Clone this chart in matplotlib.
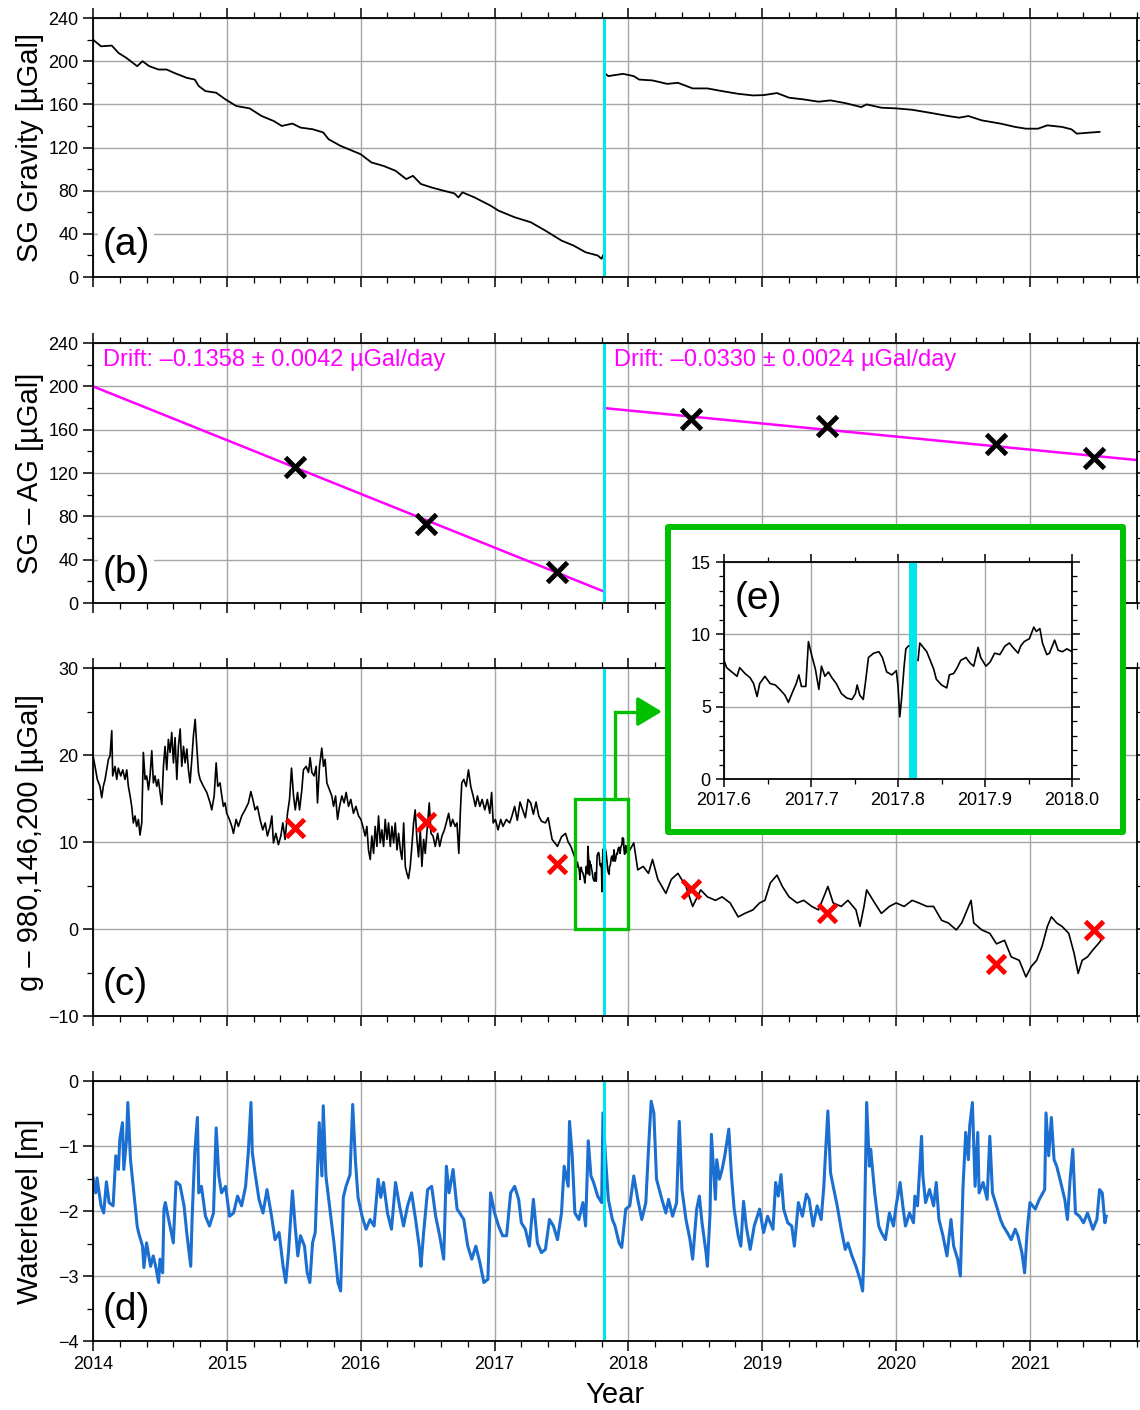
import matplotlib

matplotlib.use("Agg")

import matplotlib.pyplot as plt
import numpy as np
from matplotlib.patches import Rectangle
from matplotlib.ticker import FormatStrFormatter, MultipleLocator

plt.rcParams["font.family"] = ["Liberation Sans", "DejaVu Sans"]

# instrument change (SG replaced), decimal year
BREAK_T = 2017.817
BREAK_SPAN = (2017.8126, 2017.8215)

# (a) SG gravity, before and after the break
SG1_T = [2014.00, 2014.06, 2014.14, 2014.19, 2014.25, 2014.33, 2014.37, 2014.42, 2014.49, 2014.55,
         2014.61, 2014.70, 2014.76, 2014.79, 2014.84, 2014.92, 2014.99, 2015.07, 2015.17, 2015.26,
         2015.35, 2015.41, 2015.49, 2015.55, 2015.64, 2015.72, 2015.76, 2015.85, 2015.94, 2016.00,
         2016.08, 2016.17, 2016.26, 2016.34, 2016.39, 2016.45, 2016.53, 2016.62, 2016.70, 2016.73,
         2016.76, 2016.85, 2016.97, 2017.03, 2017.15, 2017.27, 2017.38, 2017.50, 2017.59, 2017.68,
         2017.77, 2017.80, 2017.81]
SG1_V = [220.0, 213.8, 214.5, 207.7, 203.0, 195.4, 200.0, 195.4, 192.3, 192.3,
         189.0, 184.6, 183.0, 177.0, 172.3, 170.8, 164.6, 158.5, 156.3, 149.2,
         144.6, 140.0, 142.2, 138.5, 137.0, 134.0, 127.7, 121.5, 116.9, 113.8,
         106.2, 103.0, 98.5, 90.8, 93.8, 86.2, 83.0, 80.0, 77.5, 73.8,
         78.5, 73.8, 66.2, 61.5, 55.4, 50.8, 43.0, 33.8, 29.2, 23.0,
         20.0, 16.9, 20.0]
SG2_T = [2017.82, 2017.85, 2017.96, 2018.04, 2018.08, 2018.18, 2018.29, 2018.37, 2018.48, 2018.59,
         2018.70, 2018.82, 2018.93, 2019.01, 2019.11, 2019.20, 2019.31, 2019.42, 2019.51, 2019.62,
         2019.74, 2019.78, 2019.89, 2020.00, 2020.12, 2020.25, 2020.39, 2020.47, 2020.54, 2020.64,
         2020.78, 2020.89, 2020.97, 2021.06, 2021.13, 2021.24, 2021.31, 2021.35, 2021.44, 2021.52]
SG2_V = [189.2, 186.2, 188.3, 186.2, 183.0, 182.2, 179.0, 180.0, 174.8, 174.8,
         172.3, 169.8, 168.3, 168.6, 170.5, 166.2, 164.6, 162.5, 163.7, 161.2,
         157.5, 160.0, 156.9, 156.3, 155.0, 152.3, 149.2, 147.7, 149.2, 145.2,
         142.2, 139.1, 137.5, 137.5, 140.6, 139.1, 136.9, 132.9, 133.8, 134.5]

# AG campaign epochs
AG_T = [2015.51, 2016.49, 2017.47, 2018.47, 2019.48, 2020.75, 2021.48]
# (b) SG - AG offsets at the AG epochs
SG_AG = [126, 73, 29, 170, 163, 147, 134]
# (c) absolute gravity values
AG_G = [11.6, 12.3, 7.5, 4.6, 1.9, -4.0, -0.1]

# (b) linear drift fits: start value and drift per segment
FIT_START = [200.0, 180.0]
DRIFT = [-0.1358, -0.0330]
DRIFT_ERR = [0.0042, 0.0024]

# (c) gravity residual, 2014 up to the inset window
G1_T = [2014.000, 2014.015, 2014.032, 2014.052, 2014.065, 2014.077, 2014.090, 2014.102, 2014.115, 2014.127,
        2014.140, 2014.147, 2014.164, 2014.177, 2014.189, 2014.207, 2014.222, 2014.239, 2014.252, 2014.264,
        2014.277, 2014.289, 2014.301, 2014.314, 2014.326, 2014.339, 2014.351, 2014.364, 2014.376, 2014.389,
        2014.401, 2014.414, 2014.426, 2014.439, 2014.451, 2014.463, 2014.476, 2014.488, 2014.501, 2014.514,
        2014.526, 2014.538, 2014.551, 2014.563, 2014.576, 2014.588, 2014.601, 2014.613, 2014.626, 2014.638,
        2014.651, 2014.663, 2014.676, 2014.688, 2014.701, 2014.713, 2014.725, 2014.738, 2014.750, 2014.763,
        2014.775, 2014.788, 2014.800, 2014.825, 2014.850, 2014.875, 2014.887, 2014.905, 2014.920, 2014.932,
        2014.949, 2014.962, 2014.974, 2014.987, 2014.999, 2015.019, 2015.037, 2015.049, 2015.069, 2015.086,
        2015.111, 2015.136, 2015.161, 2015.179, 2015.194, 2015.211, 2015.228, 2015.248, 2015.268, 2015.286,
        2015.303, 2015.323, 2015.336, 2015.348, 2015.366, 2015.385, 2015.403, 2015.418, 2015.435, 2015.453,
        2015.468, 2015.483, 2015.498, 2015.511, 2015.528, 2015.543, 2015.560, 2015.572, 2015.592, 2015.610,
        2015.622, 2015.635, 2015.652, 2015.667, 2015.677, 2015.692, 2015.709, 2015.722, 2015.734, 2015.747,
        2015.767, 2015.784, 2015.797, 2015.812, 2015.827, 2015.842, 2015.859, 2015.876, 2015.891, 2015.909,
        2015.926, 2015.946, 2015.964, 2015.984, 2016.001, 2016.016, 2016.033, 2016.046, 2016.058, 2016.071,
        2016.083, 2016.096, 2016.108, 2016.121, 2016.133, 2016.146, 2016.158, 2016.171, 2016.183, 2016.196,
        2016.208, 2016.221, 2016.233, 2016.246, 2016.258, 2016.271, 2016.283, 2016.296, 2016.308, 2016.321,
        2016.333, 2016.345, 2016.357, 2016.370, 2016.382, 2016.395, 2016.407, 2016.420, 2016.432, 2016.445,
        2016.457, 2016.470, 2016.482, 2016.500, 2016.512, 2016.525, 2016.540, 2016.557, 2016.575, 2016.590,
        2016.607, 2016.625, 2016.639, 2016.657, 2016.672, 2016.687, 2016.705, 2016.719, 2016.733, 2016.745,
        2016.755, 2016.770, 2016.788, 2016.805, 2016.822, 2016.840, 2016.857, 2016.872, 2016.890, 2016.907,
        2016.927, 2016.946, 2016.964, 2016.978, 2016.990, 2017.006, 2017.026, 2017.046, 2017.063, 2017.088,
        2017.113, 2017.130, 2017.150, 2017.170, 2017.190, 2017.210, 2017.230, 2017.250, 2017.270, 2017.290,
        2017.310, 2017.330, 2017.350, 2017.380, 2017.400, 2017.430, 2017.450, 2017.470, 2017.500, 2017.530,
        2017.550, 2017.570]
G1_V = [19.9, 18.7, 17.2, 16.4, 15.1, 16.4, 17.2, 18.3, 19.5, 19.9,
        22.8, 17.6, 18.7, 17.2, 18.5, 17.6, 18.3, 17.2, 18.3, 16.4,
        15.3, 14.1, 12.2, 13.0, 11.8, 12.6, 10.8, 12.2, 20.3, 17.2,
        17.6, 16.0, 17.6, 20.5, 16.8, 17.6, 16.4, 17.2, 15.7, 14.3,
        18.7, 21.0, 18.3, 21.8, 20.3, 22.6, 19.1, 22.0, 17.2, 21.0,
        23.0, 18.7, 21.0, 19.1, 20.7, 18.3, 16.8, 19.5, 22.2, 24.1,
        21.0, 18.0, 17.2, 16.4, 15.7, 14.5, 13.7, 15.3, 19.1, 16.4,
        16.8, 15.3, 14.1, 14.5, 13.3, 12.6, 11.8, 11.0, 12.6, 11.8,
        13.0, 13.7, 14.5, 15.8, 14.9, 13.7, 14.1, 12.6, 11.4, 12.2,
        10.7, 11.8, 13.0, 9.9, 11.0, 9.7, 10.7, 12.2, 10.3, 13.3,
        14.9, 18.5, 15.3, 13.7, 15.7, 13.7, 16.0, 18.3, 18.7, 18.0,
        19.7, 18.0, 17.6, 18.7, 14.5, 18.7, 20.8, 18.7, 19.5, 16.8,
        16.0, 15.3, 14.1, 15.3, 12.6, 14.1, 15.3, 14.5, 15.7, 14.1,
        14.9, 13.3, 14.1, 13.0, 12.6, 11.8, 10.7, 11.8, 9.1, 8.0,
        10.7, 8.7, 11.8, 9.5, 13.0, 9.9, 11.4, 9.5, 12.6, 10.3,
        12.2, 9.5, 11.8, 9.9, 12.2, 9.1, 11.0, 9.1, 8.0, 12.2,
        7.2, 6.4, 5.8, 7.2, 9.5, 12.2, 13.7, 10.3, 8.3, 11.4,
        7.2, 10.3, 8.7, 12.2, 14.5, 11.0, 10.7, 9.5, 11.0, 9.5,
        10.7, 11.4, 12.2, 13.3, 11.8, 12.6, 11.8, 12.2, 8.7, 13.7,
        16.8, 17.2, 16.4, 18.3, 16.4, 15.3, 14.1, 15.3, 14.1, 14.9,
        13.7, 14.9, 13.3, 15.7, 12.2, 12.6, 11.4, 12.6, 11.8, 12.6,
        12.2, 13.0, 14.1, 12.5, 14.6, 13.7, 12.8, 14.9, 14.5, 13.2,
        14.6, 13.0, 12.4, 12.2, 12.8, 10.3, 9.9, 9.5, 10.6, 11.0,
        10.0, 9.5]

# (e) zoomed gravity residual around the break, split at the gap
E1_T = [2017.600, 2017.603, 2017.609, 2017.615, 2017.618, 2017.624, 2017.630, 2017.634, 2017.638, 2017.641,
        2017.647, 2017.653, 2017.659, 2017.664, 2017.670, 2017.674, 2017.678, 2017.683, 2017.686, 2017.689,
        2017.694, 2017.697, 2017.701, 2017.705, 2017.709, 2017.712, 2017.716, 2017.720, 2017.724, 2017.729,
        2017.735, 2017.741, 2017.747, 2017.751, 2017.753, 2017.756, 2017.760, 2017.763, 2017.766, 2017.772,
        2017.778, 2017.782, 2017.787, 2017.793, 2017.798, 2017.800, 2017.802, 2017.804, 2017.807, 2017.809,
        2017.812]
E1_V = [8.2, 7.7, 7.4, 7.1, 7.7, 7.3, 7.0, 6.6, 5.7, 6.6,
        7.1, 6.6, 6.5, 6.2, 5.8, 5.3, 5.9, 6.6, 7.2, 6.4,
        6.4, 9.5, 8.5, 7.6, 6.2, 7.8, 7.1, 7.4, 7.0, 6.6,
        5.9, 5.6, 5.5, 5.9, 6.5, 5.8, 5.5, 6.9, 8.4, 8.7,
        8.8, 8.4, 7.4, 7.2, 7.5, 6.4, 4.3, 5.5, 7.8, 9.0,
        9.2]
E2_T = [2017.823, 2017.825, 2017.829, 2017.833, 2017.837, 2017.841, 2017.844, 2017.850, 2017.856, 2017.859,
        2017.864, 2017.868, 2017.872, 2017.878, 2017.883, 2017.887, 2017.892, 2017.895, 2017.901, 2017.906,
        2017.911, 2017.917, 2017.923, 2017.928, 2017.932, 2017.938, 2017.941, 2017.945, 2017.951, 2017.956,
        2017.959, 2017.963, 2017.966, 2017.971, 2017.974, 2017.980, 2017.984, 2017.989, 2017.994, 2018.000]
E2_V = [8.2, 9.4, 9.1, 8.8, 8.2, 7.6, 6.9, 6.5, 6.3, 7.2,
        7.3, 7.7, 8.2, 8.4, 8.0, 7.8, 9.1, 8.4, 7.8, 8.1,
        8.7, 8.6, 9.2, 9.4, 9.1, 8.7, 9.2, 9.5, 9.7, 10.5,
        10.2, 10.4, 9.4, 8.6, 8.7, 9.6, 8.9, 8.8, 9.0, 8.8]

# (c) gravity residual after the inset window
G2_T = [2018.04, 2018.07, 2018.11, 2018.15, 2018.18, 2018.22, 2018.28, 2018.32, 2018.37, 2018.43,
        2018.48, 2018.54, 2018.59, 2018.65, 2018.70, 2018.76, 2018.82, 2018.87, 2018.93, 2018.98,
        2019.02, 2019.06, 2019.11, 2019.15, 2019.20, 2019.26, 2019.31, 2019.37, 2019.42, 2019.47,
        2019.49, 2019.53, 2019.59, 2019.64, 2019.70, 2019.73, 2019.76, 2019.78, 2019.84, 2019.89,
        2019.95, 2020.00, 2020.06, 2020.12, 2020.17, 2020.23, 2020.28, 2020.34, 2020.39, 2020.45,
        2020.49, 2020.53, 2020.56, 2020.58, 2020.64, 2020.70, 2020.75, 2020.81, 2020.86, 2020.92,
        2020.97, 2021.01, 2021.05, 2021.09, 2021.13, 2021.16, 2021.20, 2021.24, 2021.29, 2021.33,
        2021.36, 2021.39, 2021.43, 2021.47, 2021.51, 2021.53]
G2_V = [9.9, 6.8, 7.2, 6.4, 8.0, 5.7, 4.1, 5.7, 6.4, 4.9,
        2.6, 4.5, 3.7, 3.3, 3.7, 3.0, 1.4, 1.8, 2.2, 3.0,
        3.3, 5.3, 6.2, 4.9, 3.7, 3.0, 3.3, 2.6, 2.2, 4.1,
        4.9, 3.0, 2.6, 3.3, 2.2, 0.3, 2.6, 4.5, 3.0, 1.8,
        2.6, 3.0, 2.6, 3.3, 3.0, 2.6, 2.6, 1.0, 0.7, -0.1,
        0.7, 2.2, 3.3, 0.7, -0.1, -0.5, -1.7, -1.3, -3.2, -3.6,
        -5.5, -4.3, -3.6, -2.0, 0.3, 1.4, 0.7, 0.3, -0.5, -2.8,
        -5.1, -3.6, -3.2, -2.4, -1.7, -1.3]

# (d) groundwater level
W_T = [2014.00, 2014.02, 2014.03, 2014.06, 2014.08, 2014.10, 2014.12, 2014.15, 2014.17, 2014.19,
       2014.20, 2014.22, 2014.23, 2014.25, 2014.26, 2014.28, 2014.30, 2014.33, 2014.34, 2014.37,
       2014.38, 2014.40, 2014.43, 2014.45, 2014.47, 2014.49, 2014.50, 2014.52, 2014.53, 2014.54,
       2014.57, 2014.60, 2014.62, 2014.65, 2014.68, 2014.70, 2014.73, 2014.74, 2014.76, 2014.78,
       2014.79, 2014.81, 2014.84, 2014.87, 2014.90, 2014.92, 2014.94, 2014.96, 2014.99, 2015.02,
       2015.05, 2015.08, 2015.11, 2015.14, 2015.16, 2015.18, 2015.19, 2015.21, 2015.24, 2015.27,
       2015.30, 2015.33, 2015.36, 2015.39, 2015.42, 2015.44, 2015.46, 2015.49, 2015.51, 2015.53,
       2015.55, 2015.58, 2015.60, 2015.62, 2015.64, 2015.66, 2015.69, 2015.71, 2015.72, 2015.74,
       2015.77, 2015.80, 2015.83, 2015.85, 2015.87, 2015.89, 2015.92, 2015.94, 2015.96, 2015.98,
       2016.01, 2016.04, 2016.07, 2016.10, 2016.13, 2016.15, 2016.17, 2016.20, 2016.23, 2016.26,
       2016.29, 2016.32, 2016.35, 2016.38, 2016.41, 2016.44, 2016.45, 2016.47, 2016.50, 2016.53,
       2016.56, 2016.59, 2016.62, 2016.64, 2016.66, 2016.69, 2016.72, 2016.74, 2016.77, 2016.80,
       2016.83, 2016.86, 2016.89, 2016.92, 2016.95, 2016.97, 2017.00, 2017.03, 2017.06, 2017.09,
       2017.12, 2017.15, 2017.18, 2017.20, 2017.23, 2017.26, 2017.29, 2017.32, 2017.35, 2017.38,
       2017.41, 2017.44, 2017.47, 2017.50, 2017.52, 2017.55, 2017.56, 2017.58, 2017.60, 2017.63,
       2017.66, 2017.68, 2017.70, 2017.72, 2017.74, 2017.77, 2017.80, 2017.81, 2017.83, 2017.85,
       2017.88, 2017.90, 2017.93, 2017.95, 2017.98, 2018.01, 2018.04, 2018.07, 2018.10, 2018.13,
       2018.15, 2018.17, 2018.19, 2018.21, 2018.25, 2018.28, 2018.30, 2018.33, 2018.36, 2018.38,
       2018.40, 2018.43, 2018.46, 2018.48, 2018.51, 2018.53, 2018.55, 2018.58, 2018.59, 2018.61,
       2018.62, 2018.65, 2018.66, 2018.68, 2018.70, 2018.72, 2018.75, 2018.77, 2018.79, 2018.82,
       2018.84, 2018.86, 2018.88, 2018.91, 2018.94, 2018.98, 2019.01, 2019.04, 2019.08, 2019.10,
       2019.12, 2019.14, 2019.16, 2019.19, 2019.22, 2019.24, 2019.27, 2019.30, 2019.33, 2019.35,
       2019.38, 2019.41, 2019.44, 2019.46, 2019.47, 2019.49, 2019.51, 2019.53, 2019.56, 2019.59,
       2019.62, 2019.64, 2019.67, 2019.70, 2019.73, 2019.75, 2019.76, 2019.78, 2019.80, 2019.81,
       2019.84, 2019.87, 2019.89, 2019.92, 2019.95, 2019.98, 2020.00, 2020.03, 2020.05, 2020.07,
       2020.10, 2020.13, 2020.14, 2020.16, 2020.19, 2020.20, 2020.22, 2020.25, 2020.28, 2020.30,
       2020.32, 2020.35, 2020.38, 2020.41, 2020.43, 2020.46, 2020.48, 2020.50, 2020.52, 2020.54,
       2020.55, 2020.57, 2020.59, 2020.61, 2020.62, 2020.65, 2020.68, 2020.70, 2020.72, 2020.75,
       2020.78, 2020.80, 2020.83, 2020.86, 2020.89, 2020.91, 2020.94, 2020.96, 2020.98, 2021.00,
       2021.04, 2021.07, 2021.11, 2021.12, 2021.14, 2021.16, 2021.18, 2021.20, 2021.23, 2021.26,
       2021.28, 2021.30, 2021.32, 2021.34, 2021.37, 2021.40, 2021.43, 2021.47, 2021.50, 2021.52,
       2021.54, 2021.56, 2021.57]
W_V = [-1.49, -1.72, -1.49, -1.92, -2.03, -1.55, -1.87, -1.92, -1.15, -1.36,
       -0.90, -0.64, -1.36, -0.90, -0.33, -1.21, -1.62, -2.23, -2.33, -2.54,
       -2.87, -2.49, -2.85, -2.69, -2.87, -3.10, -2.74, -2.95, -1.97, -1.87,
       -2.18, -2.49, -1.55, -1.60, -1.92, -2.33, -2.85, -2.13, -1.10, -0.56,
       -1.72, -1.62, -2.08, -2.23, -2.03, -0.72, -1.46, -1.72, -1.62, -2.08,
       -2.03, -1.77, -1.92, -1.62, -1.10, -0.33, -1.10, -1.41, -1.82, -2.03,
       -1.67, -2.03, -2.44, -2.33, -2.85, -3.10, -2.64, -1.69, -2.23, -2.69,
       -2.38, -2.54, -2.95, -3.10, -2.49, -2.33, -0.64, -1.46, -0.38, -1.46,
       -1.97, -2.49, -3.10, -3.23, -1.79, -1.62, -1.44, -0.36, -1.21, -1.79,
       -2.08, -2.28, -2.13, -2.23, -1.51, -1.79, -1.56, -2.03, -2.28, -1.56,
       -1.92, -2.23, -1.92, -1.72, -2.13, -2.59, -2.85, -2.33, -1.67, -1.62,
       -2.08, -2.38, -2.74, -1.31, -1.72, -1.36, -1.97, -2.03, -2.13, -2.54,
       -2.74, -2.54, -2.79, -3.10, -3.05, -1.72, -2.03, -2.23, -2.38, -2.38,
       -1.72, -1.62, -1.82, -2.18, -2.28, -2.54, -1.82, -2.49, -2.64, -2.59,
       -2.13, -2.23, -2.44, -2.03, -1.31, -1.62, -0.62, -1.15, -2.03, -2.13,
       -1.87, -2.23, -0.92, -1.46, -1.56, -1.77, -1.87, -0.49, -1.21, -1.82,
       -2.13, -2.23, -2.49, -2.56, -1.97, -1.92, -1.46, -1.82, -2.13, -1.87,
       -1.05, -0.31, -0.49, -1.51, -1.82, -2.03, -1.82, -2.08, -1.87, -0.62,
       -1.67, -2.13, -2.44, -2.74, -1.97, -1.77, -2.18, -2.64, -2.85, -2.03,
       -0.82, -1.82, -1.21, -1.51, -1.36, -1.15, -0.74, -1.46, -1.97, -2.38,
       -2.54, -1.85, -2.23, -2.59, -2.23, -1.97, -2.33, -2.08, -2.28, -1.56,
       -1.77, -1.44, -1.97, -2.18, -2.23, -2.54, -1.87, -2.08, -1.74, -1.82,
       -2.23, -1.92, -2.13, -1.62, -1.21, -0.46, -1.41, -1.62, -1.92, -2.28,
       -2.59, -2.49, -2.69, -2.85, -3.05, -3.23, -2.64, -0.33, -1.31, -1.05,
       -1.72, -2.23, -2.33, -2.44, -2.03, -2.23, -1.92, -1.56, -1.92, -2.23,
       -2.03, -2.18, -1.77, -1.92, -0.85, -1.46, -1.87, -1.67, -1.92, -1.56,
       -2.13, -2.38, -2.69, -2.13, -2.54, -2.74, -3.00, -1.62, -0.79, -1.21,
       -0.69, -0.33, -1.62, -0.79, -1.72, -1.56, -1.82, -0.85, -1.72, -1.92,
       -2.13, -2.23, -2.33, -2.44, -2.28, -2.38, -2.64, -2.95, -2.28, -1.87,
       -1.97, -1.82, -1.67, -0.49, -1.15, -0.56, -1.21, -1.31, -1.56, -1.82,
       -2.13, -1.51, -1.05, -2.03, -2.08, -2.18, -2.03, -2.28, -2.13, -1.67,
       -1.72, -2.18, -2.08]

X_RANGE = (2014.0, 2021.8)
CYAN = "#00e5ee"
GREEN = "#00c000"
GRID = "#a6a6a6"


def style_axes(ax, ylim, ymajor, yminor, xmajor=1.0, xminor=0.2, xlim=X_RANGE):
    ax.set_xlim(*xlim)
    ax.set_ylim(*ylim)
    ax.xaxis.set_major_locator(MultipleLocator(xmajor))
    ax.xaxis.set_minor_locator(MultipleLocator(xminor))
    ax.yaxis.set_major_locator(MultipleLocator(ymajor))
    ax.yaxis.set_minor_locator(MultipleLocator(yminor))
    ax.tick_params(which="both", direction="out", top=True, right=True, labelsize=13)
    ax.tick_params(which="major", length=7, width=1.1)
    ax.tick_params(which="minor", length=4, width=0.9)
    ax.grid(True, which="major", color=GRID, lw=1.0)
    ax.set_axisbelow(True)
    for spine in ax.spines.values():
        spine.set_linewidth(1.3)


def panel_label(ax, text, ypos):
    ax.text(0.009, ypos, text, transform=ax.transAxes, fontsize=28, ha="left", va="center",
            bbox=dict(fc="white", ec="none", pad=3), zorder=4)


fig = plt.figure(figsize=(11.4, 14.1), dpi=100)
left, width = 0.0816, 0.9158
ax_a = fig.add_axes([left, 0.8035, width, 0.1837])
ax_b = fig.add_axes([left, 0.5723, width, 0.1844])
ax_c = fig.add_axes([left, 0.2794, width, 0.2468])
ax_d = fig.add_axes([left, 0.0489, width, 0.1844])

# (a) raw SG gravity
style_axes(ax_a, (0, 240), 40, 20)
ax_a.plot(SG1_T, SG1_V, color="black", lw=1.3)
ax_a.plot(SG2_T, SG2_V, color="black", lw=1.3)
ax_a.set_ylabel("SG Gravity [µGal]", fontsize=21)
panel_label(ax_a, "(a)", 0.124)

# (b) SG minus AG with linear drift fits
style_axes(ax_b, (0, 240), 40, 20)
seg_edges = [(X_RANGE[0], BREAK_T), (BREAK_T, X_RANGE[1])]
for (t0, t1), y0, drift in zip(seg_edges, FIT_START, DRIFT):
    tt = np.array([t0, t1])
    ax_b.plot(tt, y0 + drift * 365.25 * (tt - t0), color="magenta", lw=1.8, zorder=2)
ax_b.plot(AG_T, SG_AG, ls="none", marker="x", ms=14, mew=3.5, color="black", zorder=3)
for (t0, _), drift, err in zip(seg_edges, DRIFT, DRIFT_ERR):
    ax_b.text(t0 + 0.075, 224, f"Drift: \u2013{abs(drift):.4f} ± {err:.4f} µGal/day",
              color="magenta", fontsize=17, ha="left", va="center")
ax_b.set_ylabel("SG \u2013 AG [µGal]", fontsize=21)
panel_label(ax_b, "(b)", 0.115)

# (c) drift-corrected gravity with AG values
style_axes(ax_c, (-10, 30), 10, 5)
g_t = G1_T + E1_T + E2_T + G2_T
g_v = G1_V + E1_V + E2_V + G2_V
ax_c.plot(g_t, g_v, color="black", lw=1.2)
ax_c.plot(AG_T, AG_G, ls="none", marker="x", ms=13, mew=3.5, color="red", zorder=3)
ax_c.add_patch(Rectangle((2017.6, 0), 0.4, 15, fill=False, ec=GREEN, lw=2.4, zorder=4))
ax_c.plot([2017.9, 2017.9, 2018.12], [15, 25, 25], color=GREEN, lw=2.4, zorder=4,
          solid_joinstyle="miter")
ax_c.annotate("", xy=(2018.25, 25), xytext=(2018.08, 25), zorder=4,
              arrowprops=dict(arrowstyle="-|>,head_length=1.5,head_width=0.9",
                              color=GREEN, lw=2.4, shrinkA=0, shrinkB=0))
ax_c.set_ylabel("g \u2013 980,146,200 [µGal]", fontsize=21)
panel_label(ax_c, "(c)", 0.089)

# (d) groundwater level
style_axes(ax_d, (-4, 0), 1, 0.5)
ax_d.plot(W_T, W_V, color="#1a6fd1", lw=2.2)
ax_d.set_ylabel("Waterlevel [m]", fontsize=21)
ax_d.set_xlabel("Year", fontsize=21, labelpad=6)
panel_label(ax_d, "(d)", 0.12)

for ax in (ax_a, ax_b, ax_c, ax_d):
    ax.axvline(BREAK_T, color=CYAN, lw=2.2, zorder=2.5)
    ax.yaxis.set_label_coords(-0.047, 0.5)
for ax in (ax_a, ax_b, ax_c):
    ax.tick_params(labelbottom=False)

# (e) inset frame and zoomed view
frame = Rectangle((0.586, 0.410), 0.399, 0.216, transform=fig.transFigure, fc="white",
                  ec=GREEN, lw=4.3, joinstyle="round", zorder=5)
fig.add_artist(frame)
ax_e = fig.add_axes([0.6351, 0.4475, 0.3053, 0.1539], zorder=6)
style_axes(ax_e, (0, 15), 5, 1, xmajor=0.1, xminor=0.05, xlim=(2017.6, 2018.0))
ax_e.tick_params(which="major", length=6)
ax_e.tick_params(which="minor", length=3.5)
ax_e.xaxis.set_major_formatter(FormatStrFormatter("%.1f"))
ax_e.axvspan(*BREAK_SPAN, color=CYAN, lw=0, zorder=2)
ax_e.plot(E1_T, E1_V, color="black", lw=1.2, zorder=3)
ax_e.plot(E2_T, E2_V, color="black", lw=1.2, zorder=3)
ax_e.text(0.03, 0.83, "(e)", transform=ax_e.transAxes, fontsize=28, ha="left", va="center")

fig.savefig("out.png", dpi=100)
